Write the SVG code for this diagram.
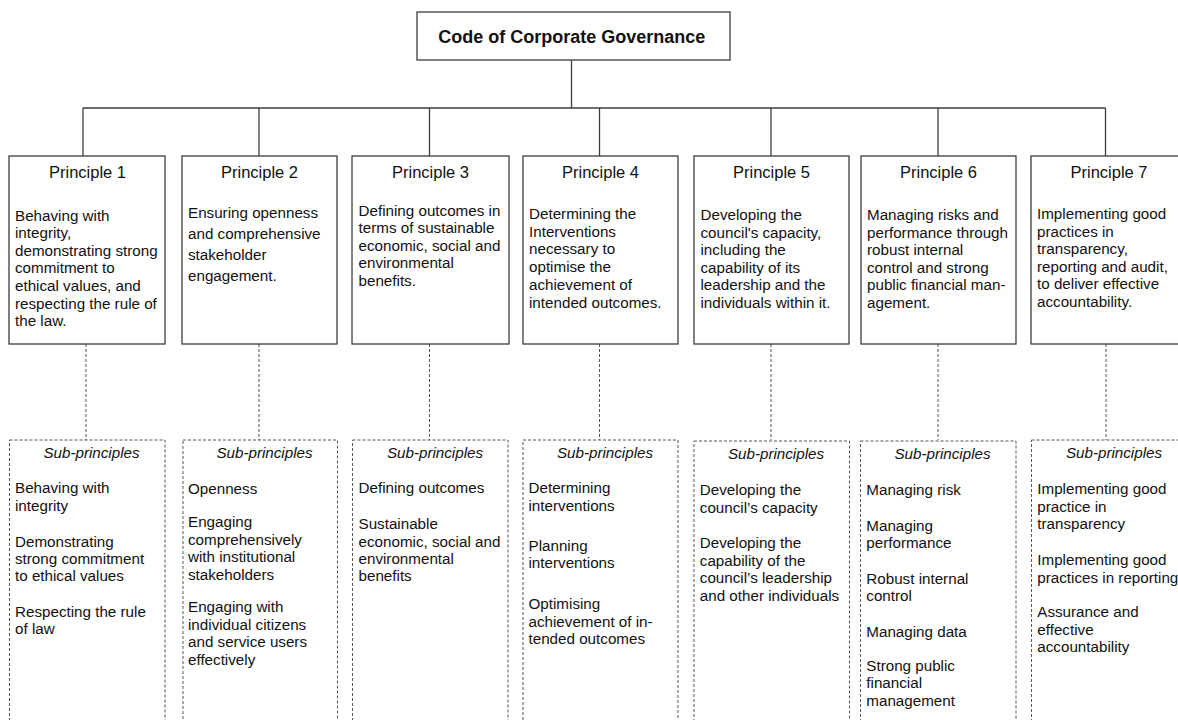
<svg xmlns="http://www.w3.org/2000/svg" width="1178" height="720" viewBox="0 0 1178 720">
<style>
.bg{fill:#ffffff}
.box{fill:#ffffff;stroke:#3c3c3c;stroke-width:1.3}
.sub{fill:#ffffff;stroke:#555555;stroke-width:1;stroke-dasharray:3 2}
.conn{fill:none;stroke:#3c3c3c;stroke-width:1.3}
.dash{fill:none;stroke:#555555;stroke-width:1;stroke-dasharray:3 2}
.title{font-family:"Liberation Sans",Arial,sans-serif;font-size:18px;font-weight:bold;fill:#111111;text-anchor:middle}
.ph{font-family:"Liberation Sans",Arial,sans-serif;font-size:16.5px;fill:#111111;text-anchor:middle}
.pt{font-family:"Liberation Sans",Arial,sans-serif;font-size:15.2px;fill:#111111}
.sh{font-family:"Liberation Sans",Arial,sans-serif;font-size:15.2px;font-style:italic;fill:#111111;text-anchor:middle}
</style>
<rect class="bg" x="0" y="0" width="1178" height="720"/>

<g id="connectors">
<line class="conn" x1="571.5" y1="60" x2="571.5" y2="108"/>
<line class="conn" x1="83" y1="108" x2="1105.5" y2="108"/>
<line class="conn" x1="83" y1="108" x2="83" y2="156"/>
<line class="conn" x1="259" y1="108" x2="259" y2="156"/>
<line class="conn" x1="429.5" y1="108" x2="429.5" y2="156"/>
<line class="conn" x1="599.5" y1="108" x2="599.5" y2="156"/>
<line class="conn" x1="771" y1="108" x2="771" y2="156"/>
<line class="conn" x1="938" y1="108" x2="938" y2="156"/>
<line class="conn" x1="1105.5" y1="108" x2="1105.5" y2="156"/>
<line class="dash" x1="86" y1="344" x2="86" y2="440"/>
<line class="dash" x1="259" y1="344" x2="259" y2="440"/>
<line class="dash" x1="429.5" y1="344" x2="429.5" y2="440"/>
<line class="dash" x1="599.5" y1="344" x2="599.5" y2="440"/>
<line class="dash" x1="771" y1="344" x2="771" y2="440"/>
<line class="dash" x1="938" y1="344" x2="938" y2="440"/>
<line class="dash" x1="1106" y1="344" x2="1106" y2="440"/>
</g>

<g id="code">
<rect class="box" x="417" y="12" width="313" height="48"/>
<text class="title" x="571.7" y="43">Code of Corporate Governance</text>
</g>

<g id="principle1">
<rect class="box" x="9" y="156" width="156" height="188"/>
<text class="ph" x="87.5" y="178">Principle 1</text>
<text class="pt"><tspan x="15" y="220.5">Behaving with</tspan><tspan x="15" y="238.1">integrity,</tspan><tspan x="15" y="255.7">demonstrating strong</tspan><tspan x="15" y="273.3">commitment to</tspan><tspan x="15" y="290.9">ethical values, and</tspan><tspan x="15" y="308.5">respecting the rule of</tspan><tspan x="15" y="326.1">the law.</tspan></text>
</g>

<g id="principle2">
<rect class="box" x="182" y="156" width="155" height="188"/>
<text class="ph" x="259.5" y="178">Principle 2</text>
<text class="pt"><tspan x="188" y="217.5">Ensuring openness</tspan><tspan x="188" y="238.7">and comprehensive</tspan><tspan x="188" y="259.9">stakeholder</tspan><tspan x="188" y="281.1">engagement.</tspan></text>
</g>

<g id="principle3">
<rect class="box" x="352" y="156" width="157" height="188"/>
<text class="ph" x="430.5" y="178">Principle 3</text>
<text class="pt"><tspan x="358.5" y="215.6">Defining outcomes in</tspan><tspan x="358.5" y="233.2">terms of sustainable</tspan><tspan x="358.5" y="250.8">economic, social and</tspan><tspan x="358.5" y="268.4">environmental</tspan><tspan x="358.5" y="286">benefits.</tspan></text>
</g>

<g id="principle4">
<rect class="box" x="523" y="156" width="155" height="188"/>
<text class="ph" x="600.5" y="178">Principle 4</text>
<text class="pt"><tspan x="529" y="219">Determining the</tspan><tspan x="529" y="236.7">Interventions</tspan><tspan x="529" y="254.4">necessary to</tspan><tspan x="529" y="272.1">optimise the</tspan><tspan x="529" y="289.8">achievement of</tspan><tspan x="529" y="307.5">intended outcomes.</tspan></text>
</g>

<g id="principle5">
<rect class="box" x="694" y="156" width="155" height="188"/>
<text class="ph" x="771.5" y="178">Principle 5</text>
<text class="pt"><tspan x="700.5" y="220">Developing the</tspan><tspan x="700.5" y="237.5">council's capacity,</tspan><tspan x="700.5" y="255">including the</tspan><tspan x="700.5" y="272.5">capability of its</tspan><tspan x="700.5" y="290">leadership and the</tspan><tspan x="700.5" y="307.5">individuals within it.</tspan></text>
</g>

<g id="principle6">
<rect class="box" x="861" y="156" width="155" height="188"/>
<text class="ph" x="938.5" y="178">Principle 6</text>
<text class="pt"><tspan x="867" y="220">Managing risks and</tspan><tspan x="867" y="237.5">performance through</tspan><tspan x="867" y="255">robust internal</tspan><tspan x="867" y="272.5">control and strong</tspan><tspan x="867" y="290">public financial man-</tspan><tspan x="867" y="307.5">agement.</tspan></text>
</g>

<g id="principle7">
<rect class="box" x="1031" y="156" width="156" height="188"/>
<text class="ph" x="1109" y="178">Principle 7</text>
<text class="pt"><tspan x="1037" y="219.3">Implementing good</tspan><tspan x="1037" y="236.8">practices in</tspan><tspan x="1037" y="254.3">transparency,</tspan><tspan x="1037" y="271.8">reporting and audit,</tspan><tspan x="1037" y="289.3">to deliver effective</tspan><tspan x="1037" y="306.8">accountability.</tspan></text>
</g>

<g id="sub1">
<rect class="sub" x="9.5" y="440" width="155.5" height="300"/>
<text class="sh" x="91.5" y="458.3">Sub-principles</text>
<text class="pt"><tspan x="15" y="493.3">Behaving with</tspan><tspan x="15" y="510.7">integrity</tspan><tspan x="15" y="546.7">Demonstrating</tspan><tspan x="15" y="564">strong commitment</tspan><tspan x="15" y="581.3">to ethical values</tspan><tspan x="15" y="616.7">Respecting the rule</tspan><tspan x="15" y="634">of law</tspan></text>
</g>

<g id="sub2">
<rect class="sub" x="183" y="440" width="154.5" height="300"/>
<text class="sh" x="264.5" y="458.3">Sub-principles</text>
<text class="pt"><tspan x="188" y="494">Openness</tspan><tspan x="188" y="527.3">Engaging</tspan><tspan x="188" y="545">comprehensively</tspan><tspan x="188" y="562.3">with institutional</tspan><tspan x="188" y="580">stakeholders</tspan><tspan x="188" y="612.3">Engaging with</tspan><tspan x="188" y="630">individual citizens</tspan><tspan x="188" y="647.3">and service users</tspan><tspan x="188" y="665">effectively</tspan></text>
</g>

<g id="sub3">
<rect class="sub" x="352.5" y="440" width="155.5" height="300"/>
<text class="sh" x="435" y="458.3">Sub-principles</text>
<text class="pt"><tspan x="358.5" y="493.3">Defining outcomes</tspan><tspan x="358.5" y="529">Sustainable</tspan><tspan x="358.5" y="546.7">economic, social and</tspan><tspan x="358.5" y="564">environmental</tspan><tspan x="358.5" y="581.3">benefits</tspan></text>
</g>

<g id="sub4">
<rect class="sub" x="523" y="440" width="155" height="300"/>
<text class="sh" x="605" y="458.3">Sub-principles</text>
<text class="pt"><tspan x="528.5" y="493.3">Determining</tspan><tspan x="528.5" y="510.7">interventions</tspan><tspan x="528.5" y="551">Planning</tspan><tspan x="528.5" y="568.3">interventions</tspan><tspan x="528.5" y="609.3">Optimising</tspan><tspan x="528.5" y="626.7">achievement of in-</tspan><tspan x="528.5" y="644">tended outcomes</tspan></text>
</g>

<g id="sub5">
<rect class="sub" x="694" y="441" width="155.5" height="300"/>
<text class="sh" x="776" y="459">Sub-principles</text>
<text class="pt"><tspan x="699.8" y="495">Developing the</tspan><tspan x="699.8" y="512.7">council’s capacity</tspan><tspan x="699.8" y="548.3">Developing the</tspan><tspan x="699.8" y="565.7">capability of the</tspan><tspan x="699.8" y="583.3">council’s leadership</tspan><tspan x="699.8" y="600.7">and other individuals</tspan></text>
</g>

<g id="sub6">
<rect class="sub" x="860.5" y="441" width="155.5" height="300"/>
<text class="sh" x="942.5" y="459">Sub-principles</text>
<text class="pt"><tspan x="866.3" y="495">Managing risk</tspan><tspan x="866.3" y="530.7">Managing</tspan><tspan x="866.3" y="548.3">performance</tspan><tspan x="866.3" y="584">Robust internal</tspan><tspan x="866.3" y="600.7">control</tspan><tspan x="866.3" y="636.7">Managing data</tspan><tspan x="866.3" y="670.7">Strong public</tspan><tspan x="866.3" y="688.3">financial</tspan><tspan x="866.3" y="705.7">management</tspan></text>
</g>

<g id="sub7">
<rect class="sub" x="1031.5" y="440" width="156" height="300"/>
<text class="sh" x="1114" y="458.3">Sub-principles</text>
<text class="pt"><tspan x="1037.3" y="494">Implementing good</tspan><tspan x="1037.3" y="511.7">practice in</tspan><tspan x="1037.3" y="529">transparency</tspan><tspan x="1037.3" y="565">Implementing good</tspan><tspan x="1037.3" y="582.7">practices in reporting</tspan><tspan x="1037.3" y="617.3">Assurance and</tspan><tspan x="1037.3" y="635">effective</tspan><tspan x="1037.3" y="652.3">accountability</tspan></text>
</g>
</svg>
